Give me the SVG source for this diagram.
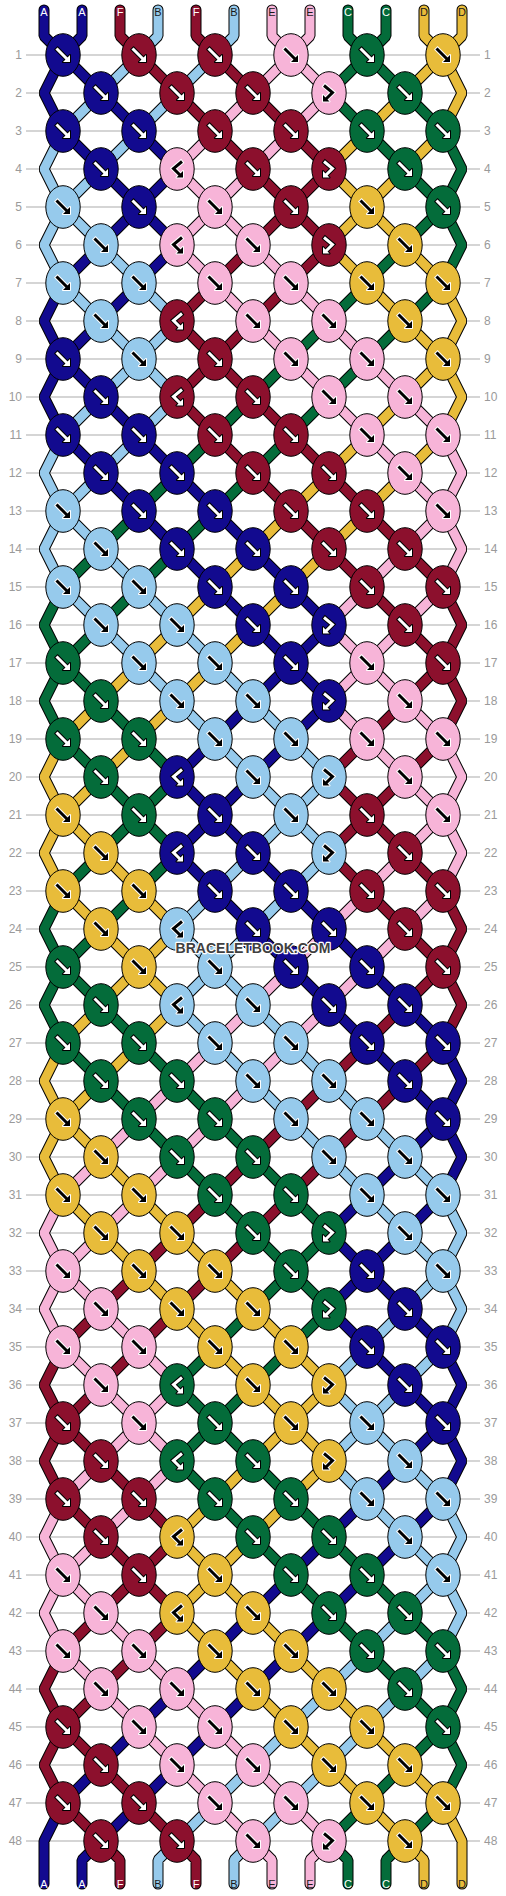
<svg xmlns="http://www.w3.org/2000/svg" xmlns:xlink="http://www.w3.org/1999/xlink" width="506" height="1896" viewBox="0 0 506 1896">
<style>
.ln{fill:none;stroke:#c8c8c8;stroke-width:1.3}
.rn{font-family:"Liberation Sans",Arial,sans-serif;font-size:12px;fill:#9a9a9a}
.rl{text-anchor:end}
.lb{font-family:"Liberation Sans",Arial,sans-serif;font-size:11px;text-anchor:middle}
.lw{fill:#ffffff}.ld{fill:#1a1a1a}
.st{fill:none;stroke-linejoin:bevel;stroke-linecap:round}
.o{stroke:#000;stroke-width:11}
.cA{stroke:#120a8f;stroke-width:9}.cF{stroke:#8c102d;stroke-width:9}.cB{stroke:#96caec;stroke-width:9}
.cE{stroke:#f7b4d8;stroke-width:9}.cC{stroke:#046c3a;stroke-width:9}.cD{stroke:#e8bc3a;stroke-width:9}
.kA{fill:#120a8f;stroke:#000;stroke-width:1}.kF{fill:#8c102d;stroke:#000;stroke-width:1}
.kB{fill:#96caec;stroke:#000;stroke-width:1}.kE{fill:#f7b4d8;stroke:#000;stroke-width:1}
.kC{fill:#046c3a;stroke:#000;stroke-width:1}.kD{fill:#e8bc3a;stroke:#000;stroke-width:1}
.ak{fill:none;stroke:#000;stroke-width:5}.hk{fill:#000;stroke:#000;stroke-width:2;stroke-linejoin:round}
.aw{fill:none;stroke:#fff;stroke-width:3}.hw{fill:#fff}
.ak2{fill:none;stroke:#fff;stroke-width:5}.hk2{fill:#fff;stroke:#fff;stroke-width:2;stroke-linejoin:round}
.aw2{fill:none;stroke:#000;stroke-width:3}.hw2{fill:#000}
.wm{font-family:"Liberation Sans",Arial,sans-serif;font-size:14px;font-weight:bold;text-anchor:middle;fill:#404040;stroke:#fff;stroke-width:2.5;paint-order:stroke;stroke-linejoin:round}
</style>
<defs>
<g id="fW"><path class="ak" d="M-7.2,-7.2L4,4"/><path class="hk" d="M7,7V0L0,7Z"/><path class="aw" d="M-6.5,-6.5L4,4"/><path class="hw" d="M7,7V0L0,7Z"/></g>
<g id="fK"><path class="ak2" d="M-7.2,-7.2L4,4"/><path class="hk2" d="M7,7V0L0,7Z"/><path class="aw2" d="M-6.5,-6.5L4,4"/><path class="hw2" d="M7,7V0L0,7Z"/></g>
<g id="fbW"><path class="ak" d="M-5.8,-8.2L3.5,-0.5L-3,6"/><path class="hk" d="M-6,8.5V2L0.5,8.5Z"/><path class="aw" d="M-5,-7.5L3.5,-0.5L-3,6"/><path class="hw" d="M-6,8.5V2L0.5,8.5Z"/></g>
<g id="fbK"><path class="ak2" d="M-5.8,-8.2L3.5,-0.5L-3,6"/><path class="hk2" d="M-6,8.5V2L0.5,8.5Z"/><path class="aw2" d="M-5,-7.5L3.5,-0.5L-3,6"/><path class="hw2" d="M-6,8.5V2L0.5,8.5Z"/></g>
<g id="bfW"><path class="ak" d="M5.8,-8.2L-3.5,-0.5L3,6"/><path class="hk" d="M6,8.5V2L-0.5,8.5Z"/><path class="aw" d="M5,-7.5L-3.5,-0.5L3,6"/><path class="hw" d="M6,8.5V2L-0.5,8.5Z"/></g>
<g id="bfK"><path class="ak2" d="M5.8,-8.2L-3.5,-0.5L3,6"/><path class="hk2" d="M6,8.5V2L-0.5,8.5Z"/><path class="aw2" d="M5,-7.5L-3.5,-0.5L3,6"/><path class="hw2" d="M6,8.5V2L-0.5,8.5Z"/></g>
<g id="Af"><ellipse class="kA" rx="17.2" ry="21.3"/><use href="#fW"/></g>
<g id="Afb"><ellipse class="kA" rx="17.2" ry="21.3"/><use href="#fbW"/></g>
<g id="Abf"><ellipse class="kA" rx="17.2" ry="21.3"/><use href="#bfW"/></g>
<g id="Ff"><ellipse class="kF" rx="17.2" ry="21.3"/><use href="#fW"/></g>
<g id="Ffb"><ellipse class="kF" rx="17.2" ry="21.3"/><use href="#fbW"/></g>
<g id="Fbf"><ellipse class="kF" rx="17.2" ry="21.3"/><use href="#bfW"/></g>
<g id="Cf"><ellipse class="kC" rx="17.2" ry="21.3"/><use href="#fW"/></g>
<g id="Cfb"><ellipse class="kC" rx="17.2" ry="21.3"/><use href="#fbW"/></g>
<g id="Cbf"><ellipse class="kC" rx="17.2" ry="21.3"/><use href="#bfW"/></g>
<g id="Bf"><ellipse class="kB" rx="17.2" ry="21.3"/><use href="#fK"/></g>
<g id="Bfb"><ellipse class="kB" rx="17.2" ry="21.3"/><use href="#fbK"/></g>
<g id="Bbf"><ellipse class="kB" rx="17.2" ry="21.3"/><use href="#bfK"/></g>
<g id="Ef"><ellipse class="kE" rx="17.2" ry="21.3"/><use href="#fK"/></g>
<g id="Efb"><ellipse class="kE" rx="17.2" ry="21.3"/><use href="#fbK"/></g>
<g id="Ebf"><ellipse class="kE" rx="17.2" ry="21.3"/><use href="#bfK"/></g>
<g id="Df"><ellipse class="kD" rx="17.2" ry="21.3"/><use href="#fK"/></g>
<g id="Dfb"><ellipse class="kD" rx="17.2" ry="21.3"/><use href="#fbK"/></g>
<g id="Dbf"><ellipse class="kD" rx="17.2" ry="21.3"/><use href="#bfK"/></g>
<path id="pA0" d="M44,10V36L63,55L101,93L139,131L177,169L139,207L101,245L63,283L44,321L63,359L101,397L139,435L177,473L215,511L253,549L291,587L329,625L291,663L253,701L215,739L177,777L215,815L253,853L291,891L329,929L367,967L405,1005L443,1043L462,1081L443,1119L405,1157L367,1195L329,1233L367,1271L405,1309L443,1347L462,1385L443,1423L405,1461L367,1499L329,1537L291,1575L253,1613L215,1651L177,1689L139,1727L101,1765L63,1803L44,1841V1884"/>
<path id="pA1" d="M82,10V36L63,55L44,93L63,131L101,169L139,207L177,245L139,283L101,321L63,359L44,397L63,435L101,473L139,511L177,549L215,587L253,625L291,663L329,701L291,739L253,777L215,815L177,853L215,891L253,929L291,967L329,1005L367,1043L405,1081L443,1119L462,1157L443,1195L405,1233L367,1271L329,1309L367,1347L405,1385L443,1423L462,1461L443,1499L405,1537L367,1575L329,1613L291,1651L253,1689L215,1727L177,1765L139,1803L101,1841L82,1860V1884"/>
<path id="pF2" d="M120,10V36L139,55L177,93L215,131L253,169L291,207L329,245L291,283L253,321L215,359L177,397L215,435L253,473L291,511L329,549L367,587L405,625L443,663L462,701L443,739L405,777L367,815L329,853L367,891L405,929L443,967L462,1005L443,1043L405,1081L367,1119L329,1157L291,1195L253,1233L215,1271L177,1309L139,1347L101,1385L63,1423L44,1461L63,1499L101,1537L139,1575L177,1613L139,1651L101,1689L63,1727L44,1765L63,1803L101,1841L120,1860V1884"/>
<path id="pF4" d="M196,10V36L215,55L253,93L291,131L329,169L291,207L253,245L215,283L177,321L215,359L253,397L291,435L329,473L367,511L405,549L443,587L462,625L443,663L405,701L367,739L329,777L367,815L405,853L443,891L462,929L443,967L405,1005L367,1043L329,1081L291,1119L253,1157L215,1195L177,1233L139,1271L101,1309L63,1347L44,1385L63,1423L101,1461L139,1499L177,1537L139,1575L101,1613L63,1651L44,1689L63,1727L101,1765L139,1803L177,1841L196,1860V1884"/>
<path id="pB3" d="M158,10V36L139,55L101,93L63,131L44,169L63,207L101,245L139,283L177,321L139,359L101,397L63,435L44,473L63,511L101,549L139,587L177,625L215,663L253,701L291,739L329,777L291,815L253,853L215,891L177,929L215,967L253,1005L291,1043L329,1081L367,1119L405,1157L443,1195L462,1233L443,1271L405,1309L367,1347L329,1385L367,1423L405,1461L443,1499L462,1537L443,1575L405,1613L367,1651L329,1689L291,1727L253,1765L215,1803L177,1841L158,1860V1884"/>
<path id="pB5" d="M234,10V36L215,55L177,93L139,131L101,169L63,207L44,245L63,283L101,321L139,359L177,397L139,435L101,473L63,511L44,549L63,587L101,625L139,663L177,701L215,739L253,777L291,815L329,853L291,891L253,929L215,967L177,1005L215,1043L253,1081L291,1119L329,1157L367,1195L405,1233L443,1271L462,1309L443,1347L405,1385L367,1423L329,1461L367,1499L405,1537L443,1575L462,1613L443,1651L405,1689L367,1727L329,1765L291,1803L253,1841L234,1860V1884"/>
<path id="pE6" d="M272,10V36L291,55L329,93L291,131L253,169L215,207L177,245L215,283L253,321L291,359L329,397L367,435L405,473L443,511L462,549L443,587L405,625L367,663L329,701L367,739L405,777L443,815L462,853L443,891L405,929L367,967L329,1005L291,1043L253,1081L215,1119L177,1157L139,1195L101,1233L63,1271L44,1309L63,1347L101,1385L139,1423L177,1461L139,1499L101,1537L63,1575L44,1613L63,1651L101,1689L139,1727L177,1765L215,1803L253,1841L272,1860V1884"/>
<path id="pE7" d="M310,10V36L291,55L253,93L215,131L177,169L215,207L253,245L291,283L329,321L367,359L405,397L443,435L462,473L443,511L405,549L367,587L329,625L367,663L405,701L443,739L462,777L443,815L405,853L367,891L329,929L291,967L253,1005L215,1043L177,1081L139,1119L101,1157L63,1195L44,1233L63,1271L101,1309L139,1347L177,1385L139,1423L101,1461L63,1499L44,1537L63,1575L101,1613L139,1651L177,1689L215,1727L253,1765L291,1803L329,1841L310,1860V1884"/>
<path id="pC8" d="M348,10V36L367,55L405,93L443,131L462,169L443,207L405,245L367,283L329,321L291,359L253,397L215,435L177,473L139,511L101,549L63,587L44,625L63,663L101,701L139,739L177,777L139,815L101,853L63,891L44,929L63,967L101,1005L139,1043L177,1081L215,1119L253,1157L291,1195L329,1233L291,1271L253,1309L215,1347L177,1385L215,1423L253,1461L291,1499L329,1537L367,1575L405,1613L443,1651L462,1689L443,1727L405,1765L367,1803L329,1841L348,1860V1884"/>
<path id="pC9" d="M386,10V36L367,55L329,93L367,131L405,169L443,207L462,245L443,283L405,321L367,359L329,397L291,435L253,473L215,511L177,549L139,587L101,625L63,663L44,701L63,739L101,777L139,815L177,853L139,891L101,929L63,967L44,1005L63,1043L101,1081L139,1119L177,1157L215,1195L253,1233L291,1271L329,1309L291,1347L253,1385L215,1423L177,1461L215,1499L253,1537L291,1575L329,1613L367,1651L405,1689L443,1727L462,1765L443,1803L405,1841L386,1860V1884"/>
<path id="pD10" d="M424,10V36L443,55L462,93L443,131L405,169L367,207L329,245L367,283L405,321L443,359L462,397L443,435L405,473L367,511L329,549L291,587L253,625L215,663L177,701L139,739L101,777L63,815L44,853L63,891L101,929L139,967L177,1005L139,1043L101,1081L63,1119L44,1157L63,1195L101,1233L139,1271L177,1309L215,1347L253,1385L291,1423L329,1461L291,1499L253,1537L215,1575L177,1613L215,1651L253,1689L291,1727L329,1765L367,1803L405,1841L424,1860V1884"/>
<path id="pD11" d="M462,10V36L443,55L405,93L367,131L329,169L367,207L405,245L443,283L462,321L443,359L405,397L367,435L329,473L291,511L253,549L215,587L177,625L139,663L101,701L63,739L44,777L63,815L101,853L139,891L177,929L139,967L101,1005L63,1043L44,1081L63,1119L101,1157L139,1195L177,1233L215,1271L253,1309L291,1347L329,1385L291,1423L253,1461L215,1499L177,1537L215,1575L253,1613L291,1651L329,1689L367,1727L405,1765L443,1803L462,1841V1884"/>
</defs>
<rect width="506" height="1896" fill="#fff"/>
<g id="grid">
<path class="ln" d="M26,55H480M26,93H480M26,131H480M26,169H480M26,207H480M26,245H480M26,283H480M26,321H480M26,359H480M26,397H480M26,435H480M26,473H480M26,511H480M26,549H480M26,587H480M26,625H480M26,663H480M26,701H480M26,739H480M26,777H480M26,815H480M26,853H480M26,891H480M26,929H480M26,967H480M26,1005H480M26,1043H480M26,1081H480M26,1119H480M26,1157H480M26,1195H480M26,1233H480M26,1271H480M26,1309H480M26,1347H480M26,1385H480M26,1423H480M26,1461H480M26,1499H480M26,1537H480M26,1575H480M26,1613H480M26,1651H480M26,1689H480M26,1727H480M26,1765H480M26,1803H480M26,1841H480"/>
</g>
<g id="rownumbers" class="rn">
<text class="rl" x="22" y="59">1</text><text x="484" y="59">1</text>
<text class="rl" x="22" y="97">2</text><text x="484" y="97">2</text>
<text class="rl" x="22" y="135">3</text><text x="484" y="135">3</text>
<text class="rl" x="22" y="173">4</text><text x="484" y="173">4</text>
<text class="rl" x="22" y="211">5</text><text x="484" y="211">5</text>
<text class="rl" x="22" y="249">6</text><text x="484" y="249">6</text>
<text class="rl" x="22" y="287">7</text><text x="484" y="287">7</text>
<text class="rl" x="22" y="325">8</text><text x="484" y="325">8</text>
<text class="rl" x="22" y="363">9</text><text x="484" y="363">9</text>
<text class="rl" x="22" y="401">10</text><text x="484" y="401">10</text>
<text class="rl" x="22" y="439">11</text><text x="484" y="439">11</text>
<text class="rl" x="22" y="477">12</text><text x="484" y="477">12</text>
<text class="rl" x="22" y="515">13</text><text x="484" y="515">13</text>
<text class="rl" x="22" y="553">14</text><text x="484" y="553">14</text>
<text class="rl" x="22" y="591">15</text><text x="484" y="591">15</text>
<text class="rl" x="22" y="629">16</text><text x="484" y="629">16</text>
<text class="rl" x="22" y="667">17</text><text x="484" y="667">17</text>
<text class="rl" x="22" y="705">18</text><text x="484" y="705">18</text>
<text class="rl" x="22" y="743">19</text><text x="484" y="743">19</text>
<text class="rl" x="22" y="781">20</text><text x="484" y="781">20</text>
<text class="rl" x="22" y="819">21</text><text x="484" y="819">21</text>
<text class="rl" x="22" y="857">22</text><text x="484" y="857">22</text>
<text class="rl" x="22" y="895">23</text><text x="484" y="895">23</text>
<text class="rl" x="22" y="933">24</text><text x="484" y="933">24</text>
<text class="rl" x="22" y="971">25</text><text x="484" y="971">25</text>
<text class="rl" x="22" y="1009">26</text><text x="484" y="1009">26</text>
<text class="rl" x="22" y="1047">27</text><text x="484" y="1047">27</text>
<text class="rl" x="22" y="1085">28</text><text x="484" y="1085">28</text>
<text class="rl" x="22" y="1123">29</text><text x="484" y="1123">29</text>
<text class="rl" x="22" y="1161">30</text><text x="484" y="1161">30</text>
<text class="rl" x="22" y="1199">31</text><text x="484" y="1199">31</text>
<text class="rl" x="22" y="1237">32</text><text x="484" y="1237">32</text>
<text class="rl" x="22" y="1275">33</text><text x="484" y="1275">33</text>
<text class="rl" x="22" y="1313">34</text><text x="484" y="1313">34</text>
<text class="rl" x="22" y="1351">35</text><text x="484" y="1351">35</text>
<text class="rl" x="22" y="1389">36</text><text x="484" y="1389">36</text>
<text class="rl" x="22" y="1427">37</text><text x="484" y="1427">37</text>
<text class="rl" x="22" y="1465">38</text><text x="484" y="1465">38</text>
<text class="rl" x="22" y="1503">39</text><text x="484" y="1503">39</text>
<text class="rl" x="22" y="1541">40</text><text x="484" y="1541">40</text>
<text class="rl" x="22" y="1579">41</text><text x="484" y="1579">41</text>
<text class="rl" x="22" y="1617">42</text><text x="484" y="1617">42</text>
<text class="rl" x="22" y="1655">43</text><text x="484" y="1655">43</text>
<text class="rl" x="22" y="1693">44</text><text x="484" y="1693">44</text>
<text class="rl" x="22" y="1731">45</text><text x="484" y="1731">45</text>
<text class="rl" x="22" y="1769">46</text><text x="484" y="1769">46</text>
<text class="rl" x="22" y="1807">47</text><text x="484" y="1807">47</text>
<text class="rl" x="22" y="1845">48</text><text x="484" y="1845">48</text>
</g>
<g id="connectors">
<use href="#pA0" class="st o"/><use href="#pA1" class="st o"/><use href="#pF2" class="st o"/><use href="#pF4" class="st o"/><use href="#pB3" class="st o"/><use href="#pB5" class="st o"/><use href="#pE6" class="st o"/><use href="#pE7" class="st o"/><use href="#pC8" class="st o"/><use href="#pC9" class="st o"/><use href="#pD10" class="st o"/><use href="#pD11" class="st o"/>
<use href="#pA0" class="st cA"/><use href="#pA1" class="st cA"/><use href="#pF2" class="st cF"/><use href="#pF4" class="st cF"/><use href="#pB3" class="st cB"/><use href="#pB5" class="st cB"/><use href="#pE6" class="st cE"/><use href="#pE7" class="st cE"/><use href="#pC8" class="st cC"/><use href="#pC9" class="st cC"/><use href="#pD10" class="st cD"/><use href="#pD11" class="st cD"/>
</g>
<g id="labels" class="lb">
<text class="lw" x="44" y="16">A</text><text class="lw" x="82" y="16">A</text><text class="lw" x="120" y="16">F</text><text class="ld" x="158" y="16">B</text><text class="lw" x="196" y="16">F</text><text class="ld" x="234" y="16">B</text><text class="ld" x="272" y="16">E</text><text class="ld" x="310" y="16">E</text><text class="lw" x="348" y="16">C</text><text class="lw" x="386" y="16">C</text><text class="ld" x="424" y="16">D</text><text class="ld" x="462" y="16">D</text>
<text class="lw" x="44" y="1888">A</text><text class="lw" x="82" y="1888">A</text><text class="lw" x="120" y="1888">F</text><text class="ld" x="158" y="1888">B</text><text class="lw" x="196" y="1888">F</text><text class="ld" x="234" y="1888">B</text><text class="ld" x="272" y="1888">E</text><text class="ld" x="310" y="1888">E</text><text class="lw" x="348" y="1888">C</text><text class="lw" x="386" y="1888">C</text><text class="ld" x="424" y="1888">D</text><text class="ld" x="462" y="1888">D</text>
</g>
<g id="knots">
<g id="k1-1"><use href="#Af" x="63" y="55"/></g><g id="k1-2"><use href="#Ff" x="139" y="55"/></g><g id="k1-3"><use href="#Ff" x="215" y="55"/></g><g id="k1-4"><use href="#Ef" x="291" y="55"/></g><g id="k1-5"><use href="#Cf" x="367" y="55"/></g><g id="k1-6"><use href="#Df" x="443" y="55"/></g>
<g id="k2-1"><use href="#Af" x="101" y="93"/></g><g id="k2-2"><use href="#Ff" x="177" y="93"/></g><g id="k2-3"><use href="#Ff" x="253" y="93"/></g><g id="k2-4"><use href="#Efb" x="329" y="93"/></g><g id="k2-5"><use href="#Cf" x="405" y="93"/></g>
<g id="k3-1"><use href="#Af" x="63" y="131"/></g><g id="k3-2"><use href="#Af" x="139" y="131"/></g><g id="k3-3"><use href="#Ff" x="215" y="131"/></g><g id="k3-4"><use href="#Ff" x="291" y="131"/></g><g id="k3-5"><use href="#Cf" x="367" y="131"/></g><g id="k3-6"><use href="#Cf" x="443" y="131"/></g>
<g id="k4-1"><use href="#Af" x="101" y="169"/></g><g id="k4-2"><use href="#Ebf" x="177" y="169"/></g><g id="k4-3"><use href="#Ff" x="253" y="169"/></g><g id="k4-4"><use href="#Ffb" x="329" y="169"/></g><g id="k4-5"><use href="#Cf" x="405" y="169"/></g>
<g id="k5-1"><use href="#Bf" x="63" y="207"/></g><g id="k5-2"><use href="#Af" x="139" y="207"/></g><g id="k5-3"><use href="#Ef" x="215" y="207"/></g><g id="k5-4"><use href="#Ff" x="291" y="207"/></g><g id="k5-5"><use href="#Df" x="367" y="207"/></g><g id="k5-6"><use href="#Cf" x="443" y="207"/></g>
<g id="k6-1"><use href="#Bf" x="101" y="245"/></g><g id="k6-2"><use href="#Ebf" x="177" y="245"/></g><g id="k6-3"><use href="#Ef" x="253" y="245"/></g><g id="k6-4"><use href="#Ffb" x="329" y="245"/></g><g id="k6-5"><use href="#Df" x="405" y="245"/></g>
<g id="k7-1"><use href="#Bf" x="63" y="283"/></g><g id="k7-2"><use href="#Bf" x="139" y="283"/></g><g id="k7-3"><use href="#Ef" x="215" y="283"/></g><g id="k7-4"><use href="#Ef" x="291" y="283"/></g><g id="k7-5"><use href="#Df" x="367" y="283"/></g><g id="k7-6"><use href="#Df" x="443" y="283"/></g>
<g id="k8-1"><use href="#Bf" x="101" y="321"/></g><g id="k8-2"><use href="#Fbf" x="177" y="321"/></g><g id="k8-3"><use href="#Ef" x="253" y="321"/></g><g id="k8-4"><use href="#Ef" x="329" y="321"/></g><g id="k8-5"><use href="#Df" x="405" y="321"/></g>
<g id="k9-1"><use href="#Af" x="63" y="359"/></g><g id="k9-2"><use href="#Bf" x="139" y="359"/></g><g id="k9-3"><use href="#Ff" x="215" y="359"/></g><g id="k9-4"><use href="#Ef" x="291" y="359"/></g><g id="k9-5"><use href="#Ef" x="367" y="359"/></g><g id="k9-6"><use href="#Df" x="443" y="359"/></g>
<g id="k10-1"><use href="#Af" x="101" y="397"/></g><g id="k10-2"><use href="#Fbf" x="177" y="397"/></g><g id="k10-3"><use href="#Ff" x="253" y="397"/></g><g id="k10-4"><use href="#Ef" x="329" y="397"/></g><g id="k10-5"><use href="#Ef" x="405" y="397"/></g>
<g id="k11-1"><use href="#Af" x="63" y="435"/></g><g id="k11-2"><use href="#Af" x="139" y="435"/></g><g id="k11-3"><use href="#Ff" x="215" y="435"/></g><g id="k11-4"><use href="#Ff" x="291" y="435"/></g><g id="k11-5"><use href="#Ef" x="367" y="435"/></g><g id="k11-6"><use href="#Ef" x="443" y="435"/></g>
<g id="k12-1"><use href="#Af" x="101" y="473"/></g><g id="k12-2"><use href="#Af" x="177" y="473"/></g><g id="k12-3"><use href="#Ff" x="253" y="473"/></g><g id="k12-4"><use href="#Ff" x="329" y="473"/></g><g id="k12-5"><use href="#Ef" x="405" y="473"/></g>
<g id="k13-1"><use href="#Bf" x="63" y="511"/></g><g id="k13-2"><use href="#Af" x="139" y="511"/></g><g id="k13-3"><use href="#Af" x="215" y="511"/></g><g id="k13-4"><use href="#Ff" x="291" y="511"/></g><g id="k13-5"><use href="#Ff" x="367" y="511"/></g><g id="k13-6"><use href="#Ef" x="443" y="511"/></g>
<g id="k14-1"><use href="#Bf" x="101" y="549"/></g><g id="k14-2"><use href="#Af" x="177" y="549"/></g><g id="k14-3"><use href="#Af" x="253" y="549"/></g><g id="k14-4"><use href="#Ff" x="329" y="549"/></g><g id="k14-5"><use href="#Ff" x="405" y="549"/></g>
<g id="k15-1"><use href="#Bf" x="63" y="587"/></g><g id="k15-2"><use href="#Bf" x="139" y="587"/></g><g id="k15-3"><use href="#Af" x="215" y="587"/></g><g id="k15-4"><use href="#Af" x="291" y="587"/></g><g id="k15-5"><use href="#Ff" x="367" y="587"/></g><g id="k15-6"><use href="#Ff" x="443" y="587"/></g>
<g id="k16-1"><use href="#Bf" x="101" y="625"/></g><g id="k16-2"><use href="#Bf" x="177" y="625"/></g><g id="k16-3"><use href="#Af" x="253" y="625"/></g><g id="k16-4"><use href="#Afb" x="329" y="625"/></g><g id="k16-5"><use href="#Ff" x="405" y="625"/></g>
<g id="k17-1"><use href="#Cf" x="63" y="663"/></g><g id="k17-2"><use href="#Bf" x="139" y="663"/></g><g id="k17-3"><use href="#Bf" x="215" y="663"/></g><g id="k17-4"><use href="#Af" x="291" y="663"/></g><g id="k17-5"><use href="#Ef" x="367" y="663"/></g><g id="k17-6"><use href="#Ff" x="443" y="663"/></g>
<g id="k18-1"><use href="#Cf" x="101" y="701"/></g><g id="k18-2"><use href="#Bf" x="177" y="701"/></g><g id="k18-3"><use href="#Bf" x="253" y="701"/></g><g id="k18-4"><use href="#Afb" x="329" y="701"/></g><g id="k18-5"><use href="#Ef" x="405" y="701"/></g>
<g id="k19-1"><use href="#Cf" x="63" y="739"/></g><g id="k19-2"><use href="#Cf" x="139" y="739"/></g><g id="k19-3"><use href="#Bf" x="215" y="739"/></g><g id="k19-4"><use href="#Bf" x="291" y="739"/></g><g id="k19-5"><use href="#Ef" x="367" y="739"/></g><g id="k19-6"><use href="#Ef" x="443" y="739"/></g>
<g id="k20-1"><use href="#Cf" x="101" y="777"/></g><g id="k20-2"><use href="#Abf" x="177" y="777"/></g><g id="k20-3"><use href="#Bf" x="253" y="777"/></g><g id="k20-4"><use href="#Bfb" x="329" y="777"/></g><g id="k20-5"><use href="#Ef" x="405" y="777"/></g>
<g id="k21-1"><use href="#Df" x="63" y="815"/></g><g id="k21-2"><use href="#Cf" x="139" y="815"/></g><g id="k21-3"><use href="#Af" x="215" y="815"/></g><g id="k21-4"><use href="#Bf" x="291" y="815"/></g><g id="k21-5"><use href="#Ff" x="367" y="815"/></g><g id="k21-6"><use href="#Ef" x="443" y="815"/></g>
<g id="k22-1"><use href="#Df" x="101" y="853"/></g><g id="k22-2"><use href="#Abf" x="177" y="853"/></g><g id="k22-3"><use href="#Af" x="253" y="853"/></g><g id="k22-4"><use href="#Bfb" x="329" y="853"/></g><g id="k22-5"><use href="#Ff" x="405" y="853"/></g>
<g id="k23-1"><use href="#Df" x="63" y="891"/></g><g id="k23-2"><use href="#Df" x="139" y="891"/></g><g id="k23-3"><use href="#Af" x="215" y="891"/></g><g id="k23-4"><use href="#Af" x="291" y="891"/></g><g id="k23-5"><use href="#Ff" x="367" y="891"/></g><g id="k23-6"><use href="#Ff" x="443" y="891"/></g>
<g id="k24-1"><use href="#Df" x="101" y="929"/></g><g id="k24-2"><use href="#Bbf" x="177" y="929"/></g><g id="k24-3"><use href="#Af" x="253" y="929"/></g><g id="k24-4"><use href="#Af" x="329" y="929"/></g><g id="k24-5"><use href="#Ff" x="405" y="929"/></g>
<g id="k25-1"><use href="#Cf" x="63" y="967"/></g><g id="k25-2"><use href="#Df" x="139" y="967"/></g><g id="k25-3"><use href="#Bf" x="215" y="967"/></g><g id="k25-4"><use href="#Af" x="291" y="967"/></g><g id="k25-5"><use href="#Af" x="367" y="967"/></g><g id="k25-6"><use href="#Ff" x="443" y="967"/></g>
<g id="k26-1"><use href="#Cf" x="101" y="1005"/></g><g id="k26-2"><use href="#Bbf" x="177" y="1005"/></g><g id="k26-3"><use href="#Bf" x="253" y="1005"/></g><g id="k26-4"><use href="#Af" x="329" y="1005"/></g><g id="k26-5"><use href="#Af" x="405" y="1005"/></g>
<g id="k27-1"><use href="#Cf" x="63" y="1043"/></g><g id="k27-2"><use href="#Cf" x="139" y="1043"/></g><g id="k27-3"><use href="#Bf" x="215" y="1043"/></g><g id="k27-4"><use href="#Bf" x="291" y="1043"/></g><g id="k27-5"><use href="#Af" x="367" y="1043"/></g><g id="k27-6"><use href="#Af" x="443" y="1043"/></g>
<g id="k28-1"><use href="#Cf" x="101" y="1081"/></g><g id="k28-2"><use href="#Cf" x="177" y="1081"/></g><g id="k28-3"><use href="#Bf" x="253" y="1081"/></g><g id="k28-4"><use href="#Bf" x="329" y="1081"/></g><g id="k28-5"><use href="#Af" x="405" y="1081"/></g>
<g id="k29-1"><use href="#Df" x="63" y="1119"/></g><g id="k29-2"><use href="#Cf" x="139" y="1119"/></g><g id="k29-3"><use href="#Cf" x="215" y="1119"/></g><g id="k29-4"><use href="#Bf" x="291" y="1119"/></g><g id="k29-5"><use href="#Bf" x="367" y="1119"/></g><g id="k29-6"><use href="#Af" x="443" y="1119"/></g>
<g id="k30-1"><use href="#Df" x="101" y="1157"/></g><g id="k30-2"><use href="#Cf" x="177" y="1157"/></g><g id="k30-3"><use href="#Cf" x="253" y="1157"/></g><g id="k30-4"><use href="#Bf" x="329" y="1157"/></g><g id="k30-5"><use href="#Bf" x="405" y="1157"/></g>
<g id="k31-1"><use href="#Df" x="63" y="1195"/></g><g id="k31-2"><use href="#Df" x="139" y="1195"/></g><g id="k31-3"><use href="#Cf" x="215" y="1195"/></g><g id="k31-4"><use href="#Cf" x="291" y="1195"/></g><g id="k31-5"><use href="#Bf" x="367" y="1195"/></g><g id="k31-6"><use href="#Bf" x="443" y="1195"/></g>
<g id="k32-1"><use href="#Df" x="101" y="1233"/></g><g id="k32-2"><use href="#Df" x="177" y="1233"/></g><g id="k32-3"><use href="#Cf" x="253" y="1233"/></g><g id="k32-4"><use href="#Cfb" x="329" y="1233"/></g><g id="k32-5"><use href="#Bf" x="405" y="1233"/></g>
<g id="k33-1"><use href="#Ef" x="63" y="1271"/></g><g id="k33-2"><use href="#Df" x="139" y="1271"/></g><g id="k33-3"><use href="#Df" x="215" y="1271"/></g><g id="k33-4"><use href="#Cf" x="291" y="1271"/></g><g id="k33-5"><use href="#Af" x="367" y="1271"/></g><g id="k33-6"><use href="#Bf" x="443" y="1271"/></g>
<g id="k34-1"><use href="#Ef" x="101" y="1309"/></g><g id="k34-2"><use href="#Df" x="177" y="1309"/></g><g id="k34-3"><use href="#Df" x="253" y="1309"/></g><g id="k34-4"><use href="#Cfb" x="329" y="1309"/></g><g id="k34-5"><use href="#Af" x="405" y="1309"/></g>
<g id="k35-1"><use href="#Ef" x="63" y="1347"/></g><g id="k35-2"><use href="#Ef" x="139" y="1347"/></g><g id="k35-3"><use href="#Df" x="215" y="1347"/></g><g id="k35-4"><use href="#Df" x="291" y="1347"/></g><g id="k35-5"><use href="#Af" x="367" y="1347"/></g><g id="k35-6"><use href="#Af" x="443" y="1347"/></g>
<g id="k36-1"><use href="#Ef" x="101" y="1385"/></g><g id="k36-2"><use href="#Cbf" x="177" y="1385"/></g><g id="k36-3"><use href="#Df" x="253" y="1385"/></g><g id="k36-4"><use href="#Dfb" x="329" y="1385"/></g><g id="k36-5"><use href="#Af" x="405" y="1385"/></g>
<g id="k37-1"><use href="#Ff" x="63" y="1423"/></g><g id="k37-2"><use href="#Ef" x="139" y="1423"/></g><g id="k37-3"><use href="#Cf" x="215" y="1423"/></g><g id="k37-4"><use href="#Df" x="291" y="1423"/></g><g id="k37-5"><use href="#Bf" x="367" y="1423"/></g><g id="k37-6"><use href="#Af" x="443" y="1423"/></g>
<g id="k38-1"><use href="#Ff" x="101" y="1461"/></g><g id="k38-2"><use href="#Cbf" x="177" y="1461"/></g><g id="k38-3"><use href="#Cf" x="253" y="1461"/></g><g id="k38-4"><use href="#Dfb" x="329" y="1461"/></g><g id="k38-5"><use href="#Bf" x="405" y="1461"/></g>
<g id="k39-1"><use href="#Ff" x="63" y="1499"/></g><g id="k39-2"><use href="#Ff" x="139" y="1499"/></g><g id="k39-3"><use href="#Cf" x="215" y="1499"/></g><g id="k39-4"><use href="#Cf" x="291" y="1499"/></g><g id="k39-5"><use href="#Bf" x="367" y="1499"/></g><g id="k39-6"><use href="#Bf" x="443" y="1499"/></g>
<g id="k40-1"><use href="#Ff" x="101" y="1537"/></g><g id="k40-2"><use href="#Dbf" x="177" y="1537"/></g><g id="k40-3"><use href="#Cf" x="253" y="1537"/></g><g id="k40-4"><use href="#Cf" x="329" y="1537"/></g><g id="k40-5"><use href="#Bf" x="405" y="1537"/></g>
<g id="k41-1"><use href="#Ef" x="63" y="1575"/></g><g id="k41-2"><use href="#Ff" x="139" y="1575"/></g><g id="k41-3"><use href="#Df" x="215" y="1575"/></g><g id="k41-4"><use href="#Cf" x="291" y="1575"/></g><g id="k41-5"><use href="#Cf" x="367" y="1575"/></g><g id="k41-6"><use href="#Bf" x="443" y="1575"/></g>
<g id="k42-1"><use href="#Ef" x="101" y="1613"/></g><g id="k42-2"><use href="#Dbf" x="177" y="1613"/></g><g id="k42-3"><use href="#Df" x="253" y="1613"/></g><g id="k42-4"><use href="#Cf" x="329" y="1613"/></g><g id="k42-5"><use href="#Cf" x="405" y="1613"/></g>
<g id="k43-1"><use href="#Ef" x="63" y="1651"/></g><g id="k43-2"><use href="#Ef" x="139" y="1651"/></g><g id="k43-3"><use href="#Df" x="215" y="1651"/></g><g id="k43-4"><use href="#Df" x="291" y="1651"/></g><g id="k43-5"><use href="#Cf" x="367" y="1651"/></g><g id="k43-6"><use href="#Cf" x="443" y="1651"/></g>
<g id="k44-1"><use href="#Ef" x="101" y="1689"/></g><g id="k44-2"><use href="#Ef" x="177" y="1689"/></g><g id="k44-3"><use href="#Df" x="253" y="1689"/></g><g id="k44-4"><use href="#Df" x="329" y="1689"/></g><g id="k44-5"><use href="#Cf" x="405" y="1689"/></g>
<g id="k45-1"><use href="#Ff" x="63" y="1727"/></g><g id="k45-2"><use href="#Ef" x="139" y="1727"/></g><g id="k45-3"><use href="#Ef" x="215" y="1727"/></g><g id="k45-4"><use href="#Df" x="291" y="1727"/></g><g id="k45-5"><use href="#Df" x="367" y="1727"/></g><g id="k45-6"><use href="#Cf" x="443" y="1727"/></g>
<g id="k46-1"><use href="#Ff" x="101" y="1765"/></g><g id="k46-2"><use href="#Ef" x="177" y="1765"/></g><g id="k46-3"><use href="#Ef" x="253" y="1765"/></g><g id="k46-4"><use href="#Df" x="329" y="1765"/></g><g id="k46-5"><use href="#Df" x="405" y="1765"/></g>
<g id="k47-1"><use href="#Ff" x="63" y="1803"/></g><g id="k47-2"><use href="#Ff" x="139" y="1803"/></g><g id="k47-3"><use href="#Ef" x="215" y="1803"/></g><g id="k47-4"><use href="#Ef" x="291" y="1803"/></g><g id="k47-5"><use href="#Df" x="367" y="1803"/></g><g id="k47-6"><use href="#Df" x="443" y="1803"/></g>
<g id="k48-1"><use href="#Ff" x="101" y="1841"/></g><g id="k48-2"><use href="#Ff" x="177" y="1841"/></g><g id="k48-3"><use href="#Ef" x="253" y="1841"/></g><g id="k48-4"><use href="#Efb" x="329" y="1841"/></g><g id="k48-5"><use href="#Df" x="405" y="1841"/></g>
</g>
<g id="watermark"><text class="wm" x="253" y="952.5">BRACELETBOOK.COM</text></g>
</svg>
